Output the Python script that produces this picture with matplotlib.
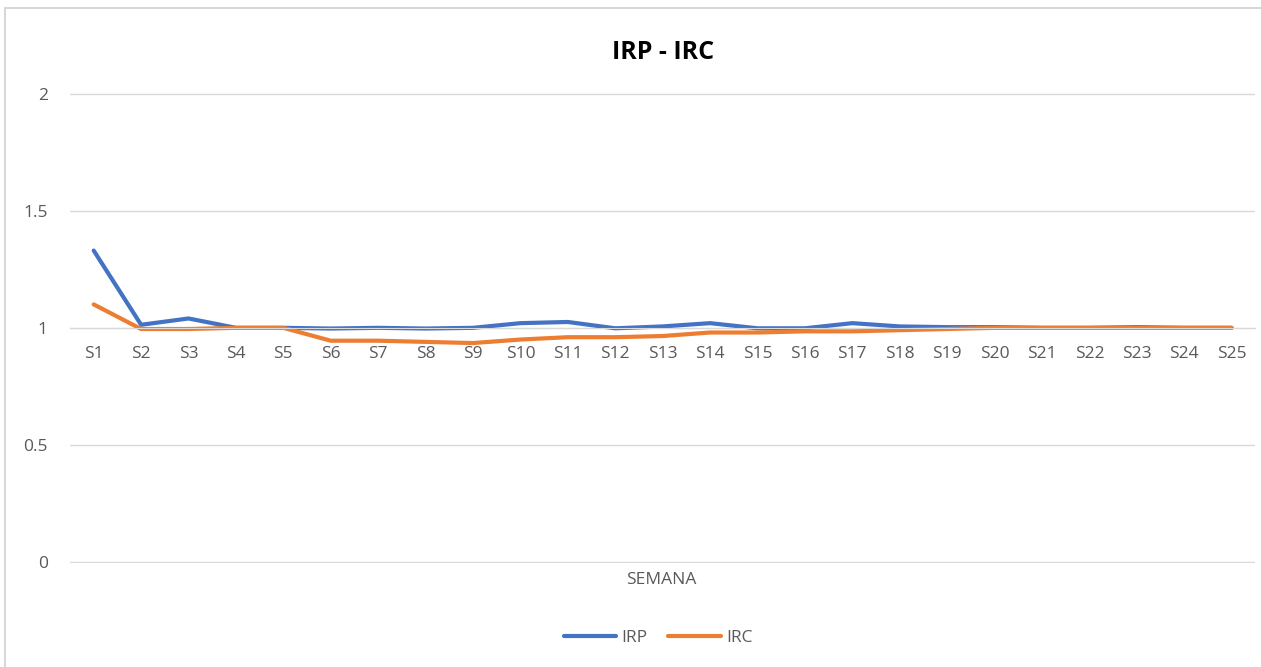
import matplotlib.pyplot as plt
from matplotlib.patches import Rectangle

plt.rcParams['font.family'] = ['Open Sans', 'DejaVu Sans']

semanas = [f"S{i}" for i in range(1, 26)]
irp = [1.33, 1.013, 1.04, 1.0, 1.0, 0.997, 1.0, 0.997, 1.0, 1.02,
       1.025, 0.998, 1.006, 1.02, 0.998, 0.998, 1.02, 1.006, 1.003, 1.003,
       1.0, 1.0, 1.003, 1.0, 1.0]
irc = [1.10, 0.995, 0.995, 1.0, 1.0, 0.945, 0.945, 0.94, 0.935, 0.95,
       0.96, 0.96, 0.965, 0.98, 0.98, 0.985, 0.985, 0.99, 0.995, 1.0,
       1.0, 1.0, 1.0, 1.0, 1.0]
y_ticks = [0, 0.5, 1, 1.5, 2]

fig = plt.figure(figsize=(12.61, 6.67), dpi=100)
fig.patches.append(Rectangle((5 / 1261, -0.01), 1.1, 1 - 8 / 667 + 0.01,
                             transform=fig.transFigure, fill=False,
                             edgecolor='#d0d0d0', linewidth=1.2))
ax = fig.add_axes([0.0555, 0.156, 0.94, 0.705])

x = list(range(len(semanas)))
ax.plot(x, irp, color='#4472C4', linewidth=3, label='IRP', solid_capstyle='round')
ax.plot(x, irc, color='#ED7D31', linewidth=3, label='IRC', solid_capstyle='round')

ax.set_xlim(-0.5, len(semanas) - 0.5)
ax.set_ylim(-0.004, 2.004)
ax.set_yticks(y_ticks)
ax.set_yticklabels(['0', '0.5', '1', '1.5', '2'])
ax.set_xticks(x)
ax.set_xticklabels(semanas)
ax.grid(axis='y', color='#d9d9d9', linewidth=1)
ax.set_axisbelow(True)
for s in ['top', 'right', 'left']:
    ax.spines[s].set_visible(False)
ax.spines['bottom'].set_position(('data', 1))
ax.spines['bottom'].set_color('#d9d9d9')
ax.tick_params(axis='both', length=0, labelsize=12.5, labelcolor='#595959')
ax.tick_params(axis='x', pad=13)
ax.tick_params(axis='y', pad=16)

ax.set_title('IRP - IRC', fontsize=18, fontweight='bold', pad=24)
fig.text(0.524, 1 - 580 / 667, 'SEMANA', ha='center', va='center',
         fontsize=12.5, color='#595959')
fig.legend(loc='center', bbox_to_anchor=(0.522, 1 - 638 / 667), ncol=2,
           frameon=False, fontsize=12.5, handlelength=3, columnspacing=1.2,
           handletextpad=0.3, labelcolor='#595959')

fig.savefig('out.png', dpi=100, facecolor='white')
